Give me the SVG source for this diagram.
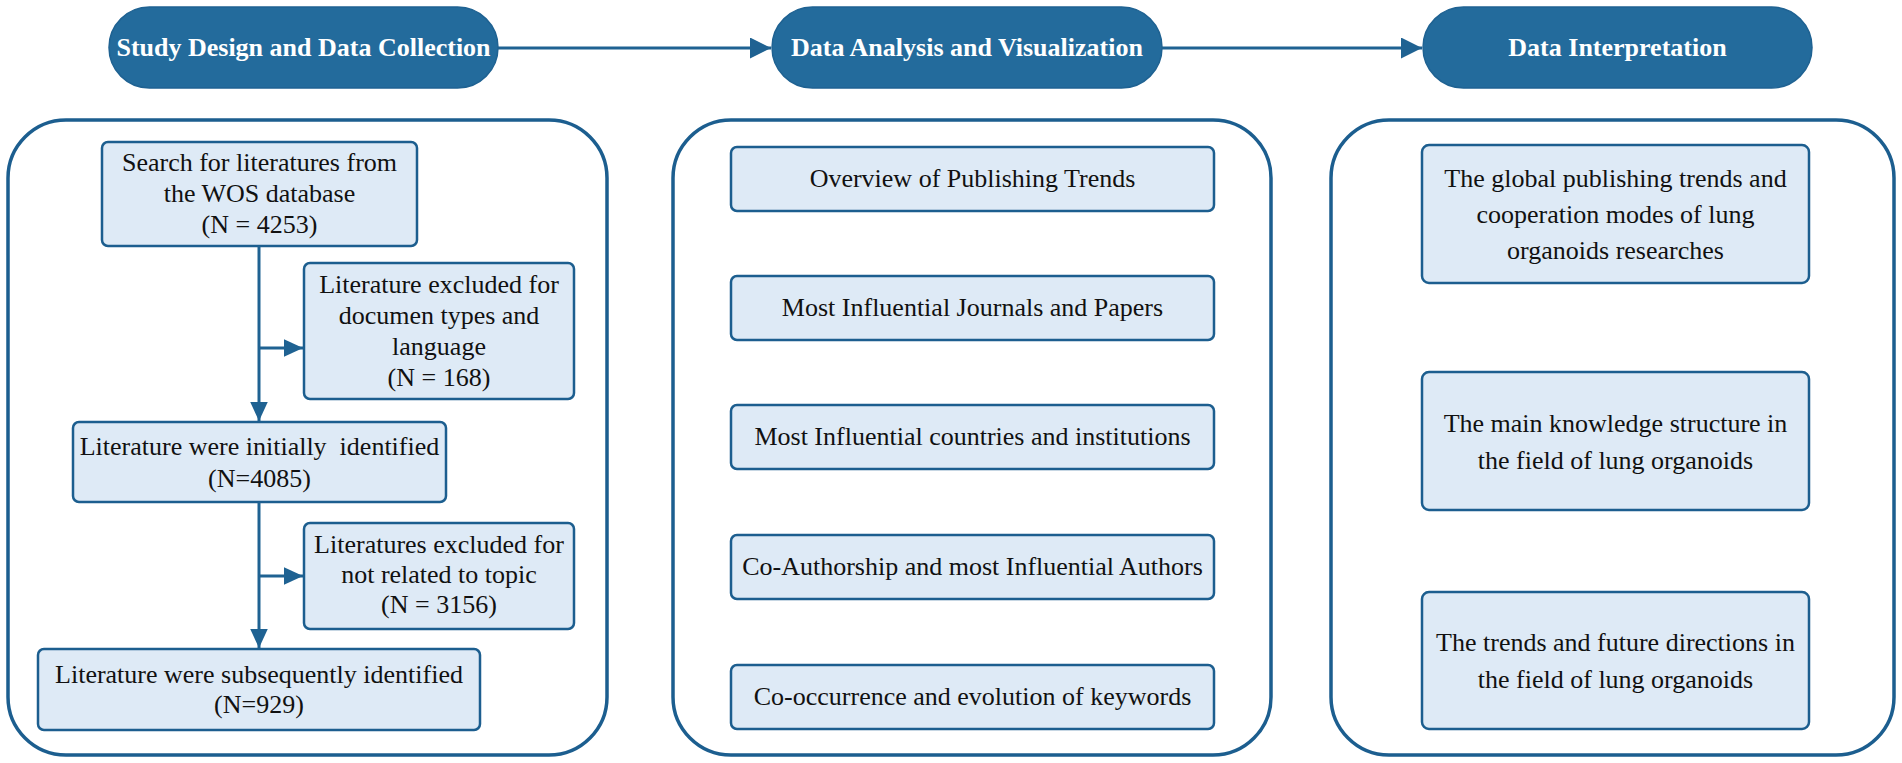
<svg xmlns="http://www.w3.org/2000/svg" width="1902" height="763" viewBox="0 0 1902 763">
<defs>
<style>
.pill{fill:#236b9c;stroke:#1f6292;stroke-width:1.5}
.ptxt{font-family:"Liberation Serif","Times New Roman",serif;font-weight:bold;font-size:26px;fill:#ffffff;text-anchor:middle}
.panel{fill:#ffffff;stroke:#1c5e8f;stroke-width:3.5}
.box{fill:#deeaf6;stroke:#1c5e8f;stroke-width:2.5}
.txt{font-family:"Liberation Serif","Times New Roman",serif;font-size:26px;fill:#111111;text-anchor:middle}
.conn{fill:none;stroke:#1f6292;stroke-width:3}
</style>
<marker id="ah" markerWidth="7" markerHeight="7" refX="7" refY="3.5" orient="auto" markerUnits="strokeWidth">
<path d="M0,0 L7,3.5 L0,7 Z" fill="#1f6292"/>
</marker>
<marker id="ah2" markerWidth="6.5" markerHeight="6" refX="6.5" refY="3" orient="auto" markerUnits="strokeWidth">
<path d="M0,0 L6.5,3 L0,6 Z" fill="#1f6292"/>
</marker>
</defs>
<rect width="1902" height="763" fill="#ffffff"/>

<g id="stage1">
<rect class="pill" x="109" y="7" width="389" height="81" rx="40.5"/>
<text class="ptxt" x="303.5" y="56">Study Design and Data Collection</text>
</g>
<g id="stage2">
<rect class="pill" x="772" y="7" width="390" height="81" rx="40.5"/>
<text class="ptxt" x="967" y="56">Data Analysis and Visualization</text>
</g>
<g id="stage3">
<rect class="pill" x="1423" y="7" width="389" height="81" rx="40.5"/>
<text class="ptxt" x="1617.5" y="56">Data Interpretation</text>
</g>

<g id="panel1"><rect class="panel" x="8" y="120" width="599" height="635" rx="58"/></g>
<g id="panel2"><rect class="panel" x="673" y="120" width="598" height="635" rx="58"/></g>
<g id="panel3"><rect class="panel" x="1331" y="120" width="563" height="635" rx="58"/></g>

<g id="search">
<rect class="box" x="102" y="142" width="315" height="104" rx="6"/>
<text class="txt" x="259.5" y="171">Search for literatures from</text>
<text class="txt" x="259.5" y="202">the WOS database</text>
<text class="txt" x="259.5" y="233">(N = 4253)</text>
</g>
<g id="excl1">
<rect class="box" x="304" y="263" width="270" height="136" rx="6"/>
<text class="txt" x="439" y="293">Literature excluded for</text>
<text class="txt" x="439" y="324">documen types and</text>
<text class="txt" x="439" y="355">language</text>
<text class="txt" x="439" y="386">(N = 168)</text>
</g>
<g id="initial">
<rect class="box" x="73" y="422" width="373" height="80" rx="6"/>
<text class="txt" x="259.5" y="455" xml:space="preserve">Literature were initially  identified</text>
<text class="txt" x="259.5" y="487">(N=4085)</text>
</g>
<g id="excl2">
<rect class="box" x="304" y="523" width="270" height="106" rx="6"/>
<text class="txt" x="439" y="553">Literatures excluded for</text>
<text class="txt" x="439" y="583">not related to topic</text>
<text class="txt" x="439" y="613">(N = 3156)</text>
</g>
<g id="final">
<rect class="box" x="38" y="649" width="442" height="81" rx="6"/>
<text class="txt" x="259" y="683">Literature were subsequently identified</text>
<text class="txt" x="259" y="713">(N=929)</text>
</g>

<g id="a1"><rect class="box" x="731" y="147" width="483" height="64" rx="6"/><text class="txt" x="972.5" y="187">Overview of Publishing Trends</text></g>
<g id="a2"><rect class="box" x="731" y="276" width="483" height="64" rx="6"/><text class="txt" x="972.5" y="316">Most Influential Journals and Papers</text></g>
<g id="a3"><rect class="box" x="731" y="405" width="483" height="64" rx="6"/><text class="txt" x="972.5" y="445">Most Influential countries and institutions</text></g>
<g id="a4"><rect class="box" x="731" y="535" width="483" height="64" rx="6"/><text class="txt" x="972.5" y="575">Co-Authorship and most Influential Authors</text></g>
<g id="a5"><rect class="box" x="731" y="665" width="483" height="64" rx="6"/><text class="txt" x="972.5" y="705">Co-occurrence and evolution of keywords</text></g>

<g id="i1">
<rect class="box" x="1422" y="145" width="387" height="138" rx="7"/>
<text class="txt" x="1615.5" y="187">The global publishing trends and</text>
<text class="txt" x="1615.5" y="223">cooperation modes of lung</text>
<text class="txt" x="1615.5" y="259">organoids researches</text>
</g>
<g id="i2">
<rect class="box" x="1422" y="372" width="387" height="138" rx="7"/>
<text class="txt" x="1615.5" y="432">The main knowledge structure in</text>
<text class="txt" x="1615.5" y="469">the field of lung organoids</text>
</g>
<g id="i3">
<rect class="box" x="1422" y="592" width="387" height="137" rx="7"/>
<text class="txt" x="1615.5" y="651">The trends and future directions in</text>
<text class="txt" x="1615.5" y="688">the field of lung organoids</text>
</g>

<g id="connectors">
<line class="conn" x1="498" y1="48" x2="771" y2="48" marker-end="url(#ah)"/>
<line class="conn" x1="1162" y1="48" x2="1422" y2="48" marker-end="url(#ah)"/>
<line class="conn" x1="259" y1="246" x2="259" y2="421" marker-end="url(#ah2)"/>
<line class="conn" x1="259" y1="348" x2="303" y2="348" marker-end="url(#ah2)"/>
<line class="conn" x1="259" y1="502" x2="259" y2="648" marker-end="url(#ah2)"/>
<line class="conn" x1="259" y1="576" x2="303" y2="576" marker-end="url(#ah2)"/>
</g>
</svg>
